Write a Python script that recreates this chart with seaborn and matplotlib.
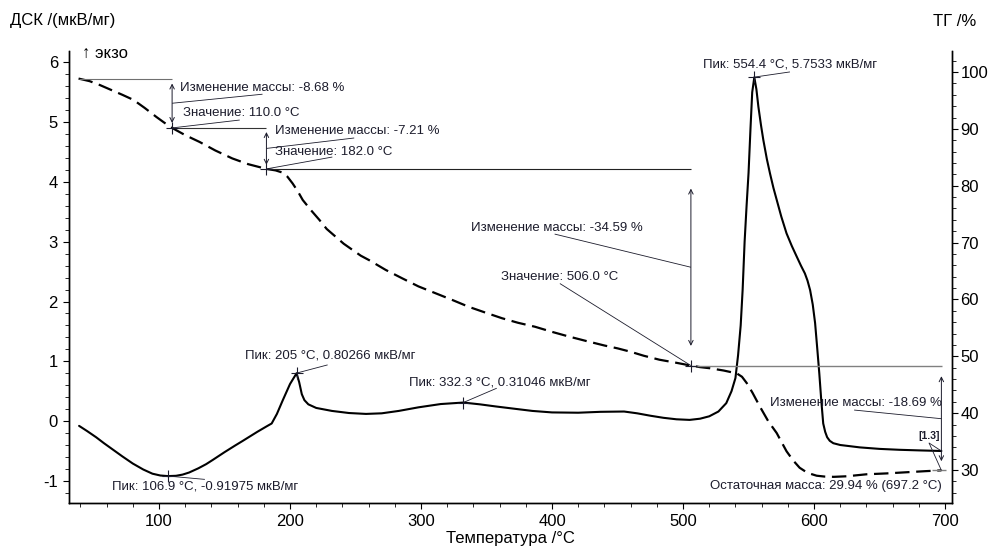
import matplotlib
matplotlib.use("Agg")
import matplotlib.pyplot as plt
import seaborn as sns

# DSC curve
dsc_temp = [39, 45, 52, 58, 65, 72, 80, 88, 95, 101, 106.9, 113, 118, 123, 130, 136, 141, 150,
            158, 164, 175, 182, 186, 190, 194.5, 200, 205, 207, 209, 211, 214, 220, 232, 245,
            258, 270, 283, 298, 315, 332.3, 345, 357, 370, 385, 400, 420, 437, 455, 465, 475,
            485, 495, 505, 513, 520, 527, 533, 537, 540, 542, 544, 545.5, 547, 548.5, 550,
            551.5, 552.8, 554.4, 556, 557.5, 559.5, 561.3, 564, 566.4, 569, 571.5, 575, 579,
            583, 586.8, 590, 593, 595, 597, 599, 600.8, 602.5, 604, 605.5, 607, 608.5, 610,
            612, 614.7, 620, 635, 650, 665, 680, 697.2]
dsc_val = [-0.08, -0.165, -0.27, -0.37, -0.48, -0.59, -0.71, -0.81, -0.88, -0.91, -0.92, -0.915,
           -0.895, -0.86, -0.79, -0.72, -0.65, -0.52, -0.41, -0.33, -0.18, -0.09, -0.04, 0.12,
           0.35, 0.62, 0.80, 0.65, 0.45, 0.35, 0.28, 0.22, 0.17, 0.135, 0.12, 0.13, 0.17, 0.23,
           0.285, 0.31, 0.28, 0.245, 0.21, 0.17, 0.145, 0.14, 0.155, 0.16, 0.13, 0.09, 0.055,
           0.03, 0.02, 0.04, 0.08, 0.16, 0.30, 0.50, 0.72, 1.1, 1.6, 2.2, 3.0, 3.6, 4.15, 4.9,
           5.5, 5.75, 5.55, 5.26, 4.95, 4.70, 4.38, 4.14, 3.9, 3.70, 3.42, 3.14, 2.93, 2.75,
           2.6, 2.47, 2.35, 2.19, 1.95, 1.64, 1.2, 0.80, 0.35, -0.04, -0.18, -0.27, -0.33,
           -0.37, -0.40, -0.44, -0.465, -0.48, -0.49, -0.50]

# TG curve
tg_temp = [38.6, 47, 55, 63, 72, 80.5, 89, 98, 104, 110, 120, 131, 143, 156, 168, 182, 189,
           194.5, 198, 202, 206, 209.7, 216, 222.4, 228, 235, 241, 247.8, 254, 260.5, 273,
           285.8, 298, 311, 324, 336.5, 349, 361.8, 374, 387, 400, 412.5, 426, 440, 450, 460,
           470, 482, 494, 506, 513, 520.6, 531, 541, 545, 548.6, 553, 558.8, 565, 571.5, 575,
           579, 584, 589, 595, 602, 608, 615, 625, 640, 655, 670, 685, 697.2]
tg_val = [98.85, 98.4, 97.7, 96.9, 96.0, 95.1, 93.7, 92.1, 91.1, 90.17, 88.9, 87.7, 86.2, 84.8,
          83.8, 82.96, 82.7, 82.3, 81.6, 80.4, 79.0, 77.5, 75.7, 74.0, 72.4, 71.0, 69.8, 68.7,
          67.7, 66.9, 65.2, 63.7, 62.3, 61.1, 59.9, 58.7, 57.7, 56.7, 55.9, 55.2, 54.3, 53.5,
          52.7, 51.9, 51.4, 50.8, 50.1, 49.4, 48.9, 48.37, 48.1, 47.9, 47.5, 47.0, 46.4, 45.3,
          43.6, 41.1, 38.6, 36.5, 35.0, 33.3, 31.7, 30.4, 29.5, 29.0, 28.85, 28.8, 28.9, 29.25,
          29.4, 29.6, 29.8, 29.94]

# mass steps and peaks
start_mass = 98.85
step_temp = [110.0, 182.0, 506.0, 697.2]
step_change = [-8.68, -7.21, -34.59, -18.69]
peak_temp = [106.9, 205, 332.3, 554.4]
peak_val = [-0.91975, 0.80266, 0.31046, 5.7533]
residual_mass = 29.94
residual_temp = 697.2

sns.set_theme(style="ticks")
plt.rcParams["font.family"] = ["Liberation Sans", "DejaVu Sans"]
plt.rcParams["axes.unicode_minus"] = False
ink = "#1c1c2c"

fig = plt.figure(figsize=(9.95, 5.46), dpi=100)
ax = fig.add_axes([69 / 995, 1 - 503 / 546, (952 - 69) / 995, (503 - 51) / 546])
ax2 = ax.twinx()

sns.lineplot(x=dsc_temp, y=dsc_val, ax=ax, color="black", lw=1.5, sort=False, estimator=None)
sns.lineplot(x=tg_temp, y=tg_val, ax=ax2, color="black", lw=1.6, sort=False, estimator=None,
             linestyle=(0, (6.5, 3)))

ax.set_xlim(31.3, 705.3)
ax.set_ylim(-1.37, 6.19)
ax2.set_ylim(24.2, 103.7)
ax.set_xticks(range(100, 701, 100))
ax.set_xticks(range(40, 701, 20), minor=True)
ax.set_yticks(range(-1, 7))
ax.set_yticks([v / 10 for v in range(-12, 62, 2)], minor=True)
ax2.set_yticks(range(30, 101, 10))
ax2.set_yticks(range(26, 104, 2), minor=True)

for a in (ax, ax2):
    a.spines["top"].set_visible(False)
    for s in a.spines.values():
        s.set_linewidth(1.0)
        s.set_color("black")
    a.tick_params(which="major", direction="out", length=4, width=0.8, labelsize=12, pad=4, colors="black")
    a.tick_params(which="minor", direction="out", length=3, width=0.7)
ax2.tick_params(axis="y", pad=2)
ax.set_xlabel("")
ax.set_ylabel("")
ax2.set_ylabel("")


def seg(axis, xs, ys, color=ink, lw=0.6):
    axis.plot(xs, ys, color=color, lw=lw, solid_capstyle="butt")


def arrow(axis, t, hi, lo):
    gap = 0.1 * (hi - lo)
    axis.annotate("", xy=(t, lo + gap), xytext=(t, hi - gap),
                  arrowprops=dict(arrowstyle="<->", lw=0.7, color=ink, mutation_scale=8,
                                  shrinkA=0, shrinkB=0))


def cross(axis, t, v):
    axis.plot(t, v, marker="+", ms=9, mew=0.8, color=ink)


fs = 9.5
levels = [start_mass]
for ch in step_change:
    levels.append(levels[-1] + ch)

# level lines
seg(ax2, [tg_temp[0], step_temp[0]], [levels[0]] * 2, color="#707070", lw=0.8)
seg(ax2, [step_temp[0], step_temp[1]], [levels[1]] * 2, color="#333333", lw=0.8)
seg(ax2, [step_temp[1], step_temp[2]], [levels[2]] * 2, color="#222222", lw=0.8)
seg(ax2, [step_temp[2], 698], [levels[3]] * 2, color="#808080", lw=1.0)
seg(ax2, [690, 701], [residual_mass] * 2, color="#808080", lw=1.0)

for i, t in enumerate(step_temp):
    arrow(ax2, t, levels[i], levels[i + 1])
for t, v in zip(step_temp[:3], levels[1:4]):
    cross(ax2, t, v)

# step 1
ax2.text(116, 97.2, f"Изменение массы: {step_change[0]:.2f} %", fontsize=fs, color=ink, va="center")
seg(ax2, [179, step_temp[0]], [96.1, (levels[0] + levels[1]) / 2])
ax2.text(118.3, 92.8, f"Значение: {step_temp[0]:.1f} °C", fontsize=fs, color=ink, va="center")
seg(ax2, [161.6, step_temp[0]], [91.56, levels[1]])
# step 2
ax2.text(188.2, 89.6, f"Изменение массы: {step_change[1]:.2f} %", fontsize=fs, color=ink, va="center")
seg(ax2, [249, step_temp[1]], [88.4, (levels[1] + levels[2]) / 2])
ax2.text(188.2, 85.9, f"Значение: {step_temp[1]:.1f} °C", fontsize=fs, color=ink, va="center")
seg(ax2, [232.3, step_temp[1]], [85.05, levels[2]])
# step 3
ax2.text(338, 72.6, f"Изменение массы: {step_change[2]:.2f} %", fontsize=fs, color=ink, va="center")
seg(ax2, [402, step_temp[2]], [71.5, (levels[2] + levels[3]) / 2])
ax2.text(360.8, 64.0, f"Значение: {step_temp[2]:.1f} °C", fontsize=fs, color=ink, va="center")
seg(ax2, [406, step_temp[2]], [62.8, levels[3]])
# step 4
ax2.text(697.5, 41.8, f"Изменение массы: {step_change[3]:.2f} %", fontsize=fs, color=ink,
         va="center", ha="right")
seg(ax2, [630.6, step_temp[3]], [40.55, (levels[3] + levels[4]) / 2])
ax2.text(687.5, 35.9, "[1.3]", fontsize=7.5, color=ink, va="center", ha="center", fontweight="bold")
seg(ax2, [687.8, residual_temp], [34.75, residual_mass])
ax.annotate("", xy=(residual_temp, dsc_val[-1]), xytext=(687.8, 34.75),
            xycoords="data", textcoords=ax2.transData,
            arrowprops=dict(arrowstyle="-", lw=0.6, color=ink, shrinkA=0, shrinkB=0))
ax2.text(697.5, 27.24, f"Остаточная масса: {residual_mass:.2f} % ({residual_temp:.1f} °C)",
         fontsize=fs, color=ink, va="center", ha="right")

# peaks
peak_text = [(64.3, -1.10), (165.4, 1.10), (290.9, 0.65), (515.3, 5.965)]
peak_lead = [(135, -0.975), (228.7, 0.94), (357.8, 0.55), (581.6, 5.84)]
for t, v, (tx, ty), (lx, ly) in zip(peak_temp, peak_val, peak_text, peak_lead):
    lab = f"{t:g}" if t == int(t) else f"{t:.1f}"
    ax.text(tx, ty, f"Пик: {lab} °C, {v:.5g} мкВ/мг", fontsize=fs, color=ink, va="center")
    seg(ax, [t, lx], [v, ly])
    cross(ax, t, v)

# axis titles
fig.text(10 / 995, 1 - 21 / 546, "ДСК /(мкВ/мг)", fontsize=12, va="center", color="black")
fig.text(82 / 995, 1 - 53 / 546, "↑ экзо", fontsize=12, va="center", color="black")
fig.text(976 / 995, 1 - 21 / 546, "ТГ /%", fontsize=12, va="center", ha="right", color="black")
fig.text(510 / 995, 1 - 539 / 546, "Температура /°C", fontsize=12, va="center", ha="center", color="black")

fig.savefig("out.png", dpi=100)
